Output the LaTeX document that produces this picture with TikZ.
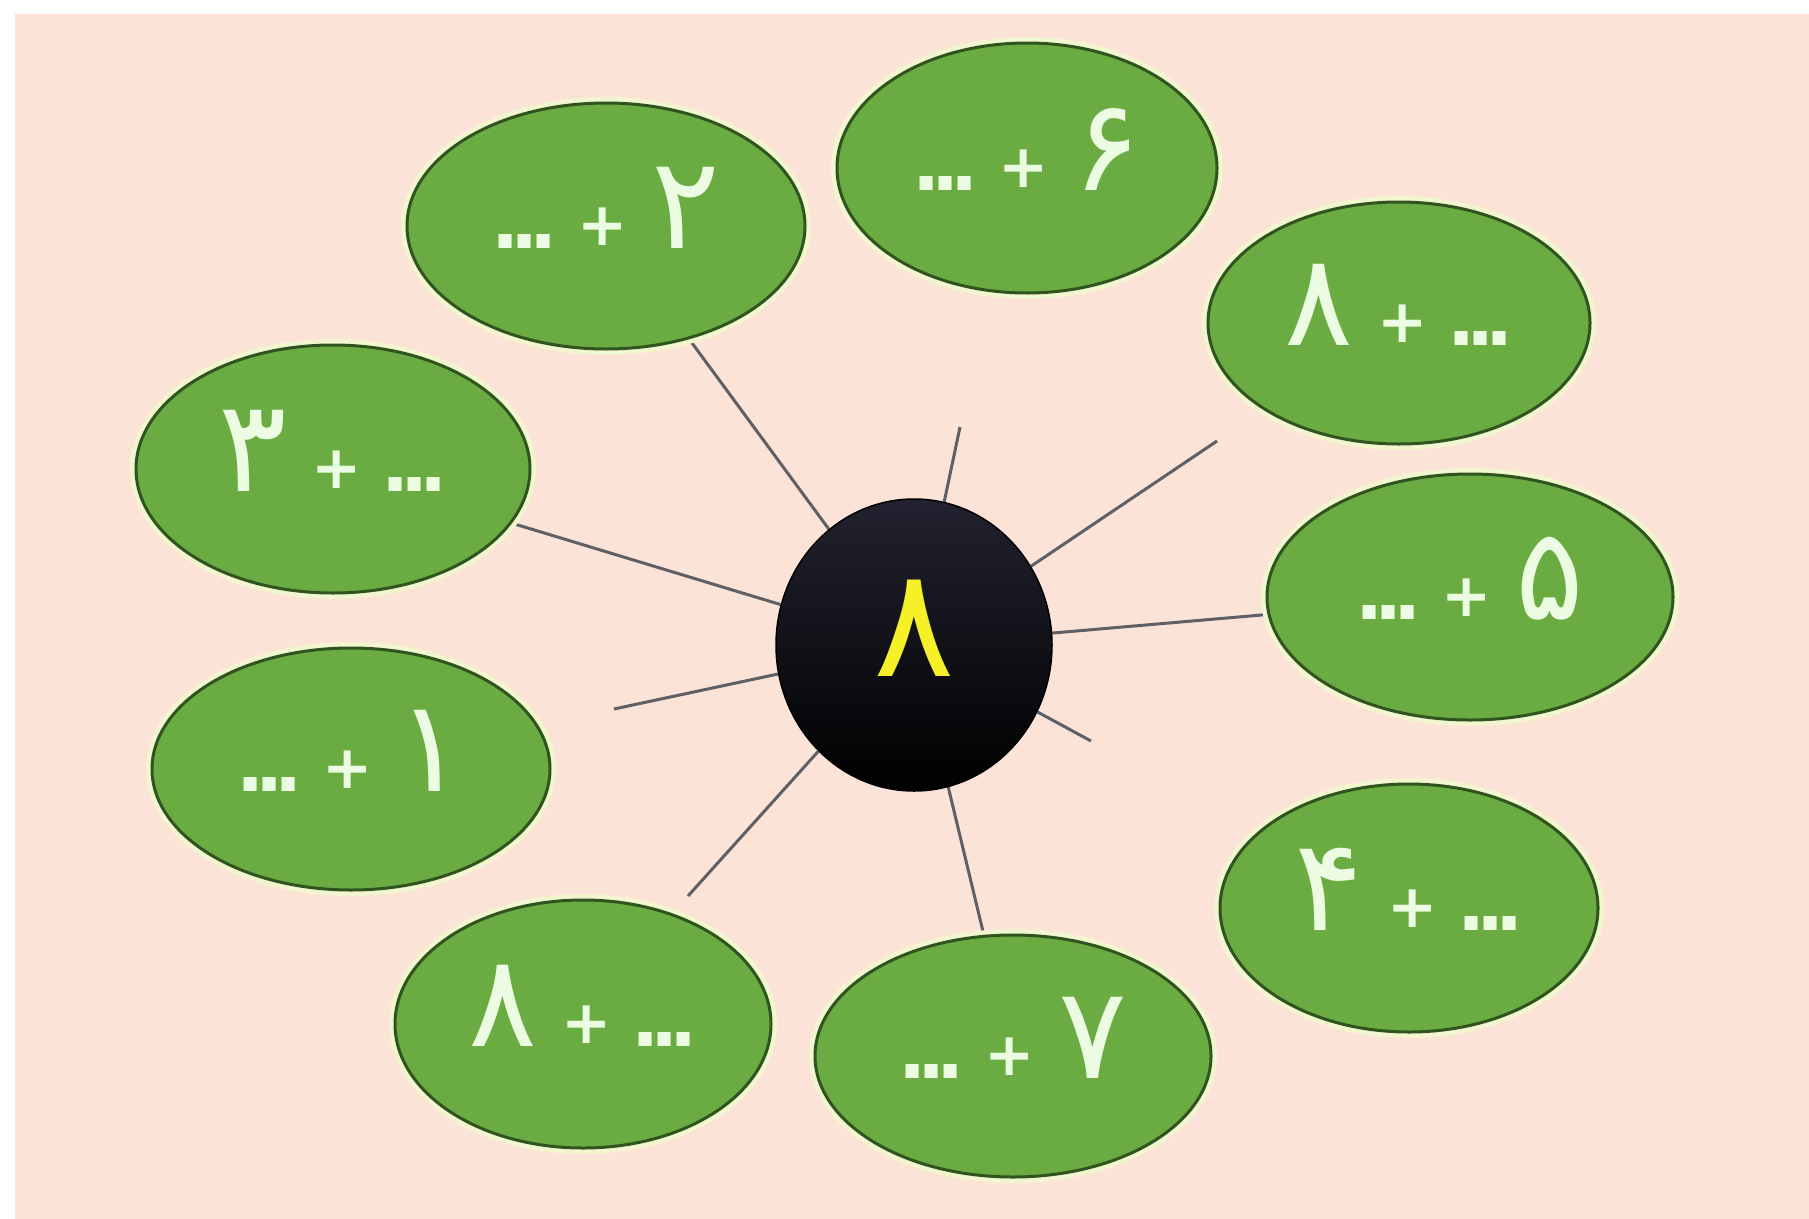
\documentclass[tikz,border=0pt]{standalone}
\usepackage{fontspec}
\usetikzlibrary{shapes.geometric}
\newfontfamily\fadig[Script=Arabic]{DejaVu Sans}
\newfontfamily\fab{DejaVu Sans Bold}
\definecolor{peach}{RGB}{252,227,215}
\definecolor{leaf}{RGB}{106,172,66}
\definecolor{leafdark}{RGB}{48,84,32}
\definecolor{glow}{RGB}{242,246,206}
\definecolor{chalk}{RGB}{236,252,226}
\definecolor{hubtext}{RGB}{245,240,40}
\definecolor{spokegray}{RGB}{95,95,102}
\definecolor{hubtop}{RGB}{34,34,48}
\pgfdeclarelayer{back}
\pgfdeclarelayer{lines}
\pgfsetlayers{back,lines,main}
\newcommand\dts{{\fab\fontsize{74}{74}\selectfont.\kern-9pt.\kern-9pt.}}
\newcommand\pls{{\fab\fontsize{60}{60}\selectfont\raisebox{3pt}{+}}}
\newcommand\dg[1]{{\fadig\fontsize{128}{128}\selectfont #1}}
\newcommand\lsum[1]{\dts\hspace{20pt}\pls\hspace{24pt}\dg{#1}}
\newcommand\rsum[1]{\dg{#1}\hspace{24pt}\pls\hspace{20pt}\dts}
\tikzset{
  bubble/.style={ellipse, inner sep=0pt, fill=leaf, draw=leafdark, line width=3pt,
    preaction={draw=glow, line width=12pt},
    text=chalk, text height=56pt, text depth=12pt},
  hub/.style={ellipse, inner sep=0pt, minimum width=276pt, minimum height=292pt,
    shading=axis, top color=hubtop, middle color=black, bottom color=black,
    draw=black, line width=1.5pt, text=hubtext, text height=90pt, text depth=28pt},
  spoke/.style={draw=spokegray, line width=3pt},
}
\begin{document}
\begin{tikzpicture}[x=1pt,y=-1pt]
\begin{pgfonlayer}{back}
\fill[white] (-20,-20) rectangle (1840,1250);
\fill[peach] (15,14) rectangle (1840,1250);
\end{pgfonlayer}

\node[hub] (hub) at (914,645) {\fadig\fontsize{152}{152}\selectfont ۸};

\node[bubble, minimum width=398pt, minimum height=246pt] (e2) at (606,226) {\lsum{۲}};
\node[bubble, minimum width=380pt, minimum height=250pt] (e6) at (1027,168) {\lsum{۶}};
\node[bubble, minimum width=382pt, minimum height=242pt] (e8a) at (1399,323) {\rsum{۸}};
\node[bubble, minimum width=406pt, minimum height=246pt] (e5) at (1470,597) {\lsum{۵}};
\node[bubble, minimum width=378pt, minimum height=248pt] (e4) at (1409,908) {\rsum{۴}};
\node[bubble, minimum width=396pt, minimum height=242pt] (e7) at (1013,1056) {\lsum{۷}};
\node[bubble, minimum width=376pt, minimum height=248pt] (e8b) at (583,1024) {\rsum{۸}};
\node[bubble, minimum width=398pt, minimum height=242pt] (e1) at (351,769) {\lsum{۱}};
\node[bubble, minimum width=394pt, minimum height=248pt] (e3) at (333,469) {\rsum{۳}};

\coordinate (s6) at (960,427);
\coordinate (s8a) at (1217,441);
\coordinate (s4) at (1091,741);
\coordinate (s8b) at (688,896);
\coordinate (s1) at (614,709);

\begin{pgfonlayer}{lines}
\draw[spoke] (hub) -- (e2);
\draw[spoke] (hub) -- (e3);
\draw[spoke] (hub) -- (e5);
\draw[spoke] (hub) -- (e7);
\draw[spoke] (hub) -- (s6);
\draw[spoke] (hub) -- (s8a);
\draw[spoke] (hub) -- (s4);
\draw[spoke] (hub) -- (s8b);
\draw[spoke] (hub) -- (s1);
\end{pgfonlayer}
\pgfresetboundingbox
\useasboundingbox (0,0) rectangle (1809,1218);
\end{tikzpicture}
\end{document}
